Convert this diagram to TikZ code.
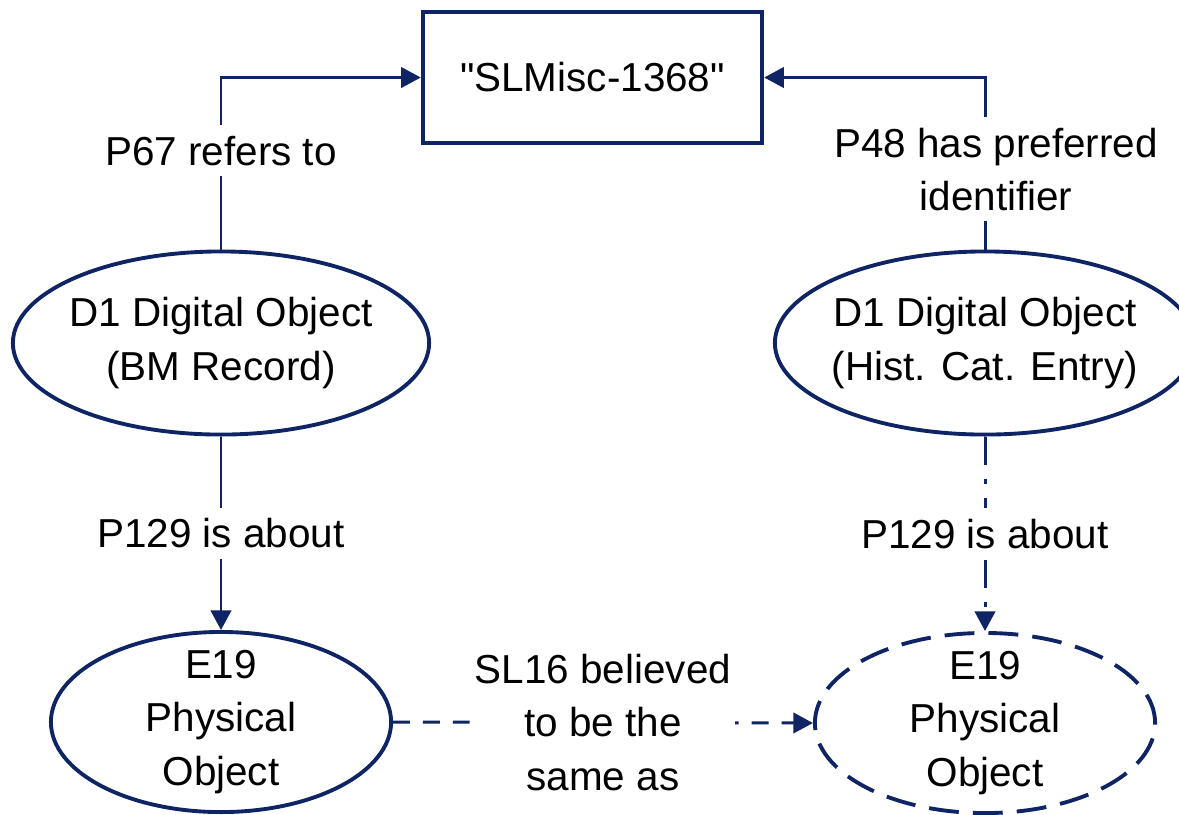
\documentclass[tikz,border=0pt]{standalone}
\usepackage{fontspec}
\setmainfont{Liberation Sans}[Ligatures=TeXOff]
\usetikzlibrary{shapes.geometric,arrows.meta}
\definecolor{navy}{RGB}{14,36,100}
\tikzset{
  txt/.style={font=\fontsize{11.5}{15.1}\selectfont, align=center, text=black},
  obj/.style={ellipse, draw=navy, line width=1.1pt, inner sep=0pt},
  link/.style={draw=navy, line width=0.85pt, -{Triangle[length=5.6pt,width=5.8pt]}},
  lbl/.style={txt, fill=white, inner sep=3pt},
}
\begin{document}
\begin{tikzpicture}[x=0.01cm, y=-0.01cm]
    \useasboundingbox (0,0) rectangle (1179,814);

    \node[txt, draw=navy, line width=1.2pt, minimum width=3.39cm, minimum height=1.31cm] (id) at (592.5,77.5) {"SLMisc-1368"};

    \node[obj, minimum width=4.16cm, minimum height=1.83cm, label={[txt]center:{D1 Digital Object\\(BM Record)}}] (bm) at (221,343) {};
    \node[obj, minimum width=4.2cm, minimum height=1.83cm, label={[txt]center:{D1 Digital Object\\(Hist. Cat. Entry)}}] (hc) at (985,343) {};
    \node[obj, minimum width=3.4cm, minimum height=1.8cm, label={[txt]center:{E19\\Physical\\Object}}] (pa) at (221,722) {};
    \node[obj, dash pattern=on 8.5pt off 4pt, minimum width=3.4cm, minimum height=1.8cm, label={[txt]center:{E19\\Physical\\Object}}] (pb) at (985,723) {};

    \draw[link] (bm.north) |- (id.west) node[lbl, pos=0.287] {P67 refers to};
    \draw[link] (hc.north) |- (id.east) node[lbl, pos=0.233, xshift=0.11cm] {P48 has preferred\\identifier};

    \draw[link] (bm.south) -- (pa.north) node[lbl, midway] {P129 is about};
    \draw[link, dash pattern=on 8pt off 4pt on 1.5pt off 4pt] (hc.south) -- (pb.north) node[lbl, midway] {P129 is about};

    \draw[link, dash pattern=on 4.8pt off 3.7pt] (pa.east) -- (pb.west) node[lbl, midway, inner xsep=1pt] {SL16 believed\\to be the\\same as};
\end{tikzpicture}
\end{document}
